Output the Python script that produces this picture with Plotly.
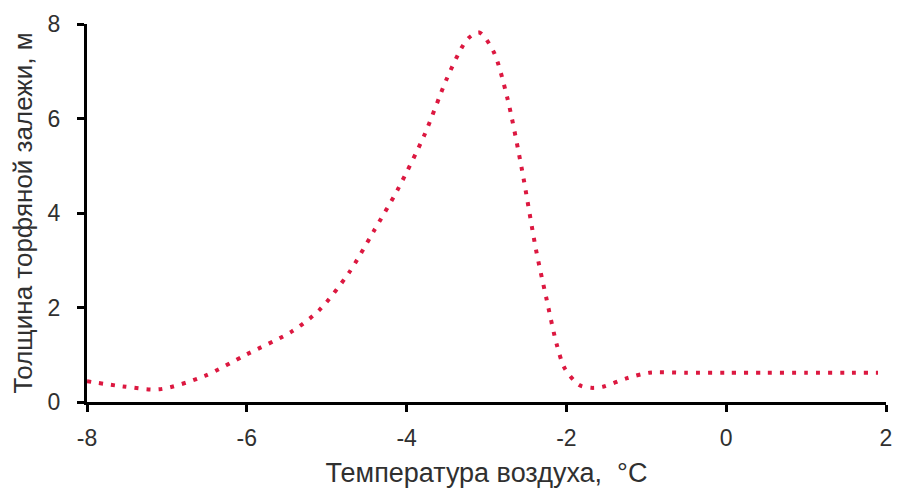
import plotly.graph_objects as go

# Air temperature (°C) and peat deposit thickness (m)
temperature = [-8.0, -7.55, -7.09, -6.53, -6.0, -5.44, -5.09, -4.72, -4.41, -4.11, -3.78,
               -3.5, -3.31, -3.22, -3.09, -2.91, -2.74, -2.56, -2.38, -2.25, -2.12,
               -2.02, -1.84, -1.69, -1.55, -1.25, -0.96, -0.5, 0.0, 0.5, 1.0, 1.5, 1.9]
thickness = [0.44, 0.33, 0.27, 0.55, 1.01, 1.49, 1.95, 2.74, 3.62, 4.5, 5.64,
             6.83, 7.5, 7.71, 7.82, 7.41, 6.44, 4.95, 3.22, 2.19, 1.21,
             0.71, 0.36, 0.30, 0.32, 0.50, 0.62, 0.62, 0.62, 0.62, 0.62, 0.62, 0.62]

x_ticks = [-8, -6, -4, -2, 0, 2]
x_tick_labels = ["-8", "-6", "-4", "-2", "0", "2"]
y_ticks = [0, 2, 4, 6, 8]

FAMILY = "Liberation Sans, Arial, sans-serif"
TEXT = "#303030"

fig = go.Figure()
fig.add_trace(go.Scatter(
    x=temperature, y=thickness, mode="lines",
    line=dict(color="#DC1840", width=4, dash="4px,8px", shape="spline", smoothing=0.8),
    showlegend=False,
))

fig.update_layout(
    width=898, height=497,
    margin=dict(l=87, r=12, t=24, b=95),
    paper_bgcolor="white", plot_bgcolor="white",
    font=dict(family=FAMILY, size=23, color=TEXT),
)
fig.update_xaxes(
    range=[-8, 2], tickvals=x_ticks, ticktext=x_tick_labels,
    showgrid=False, zeroline=False,
    showline=True, linecolor="black", linewidth=3, automargin=False,
    ticks="outside", ticklen=7, tickwidth=3, tickcolor="black",
    ticklabelstandoff=6,
    tickfont=dict(family=FAMILY, size=23, color=TEXT),
    title=dict(text="Температура воздуха,  °C",
               font=dict(family=FAMILY, size=27, color=TEXT), standoff=14),
)
fig.update_yaxes(
    range=[0, 8], tickvals=y_ticks, showgrid=False, zeroline=False,
    showline=True, linecolor="black", linewidth=3, automargin=False,
    ticks="outside", ticklen=7, tickwidth=3, tickcolor="black",
    ticklabelstandoff=12,
    tickfont=dict(family=FAMILY, size=23, color=TEXT),
    title=dict(text="Толщина торфяной залежи, м",
               font=dict(family=FAMILY, size=26, color=TEXT), standoff=8),
)

fig.write_html("out.html")
